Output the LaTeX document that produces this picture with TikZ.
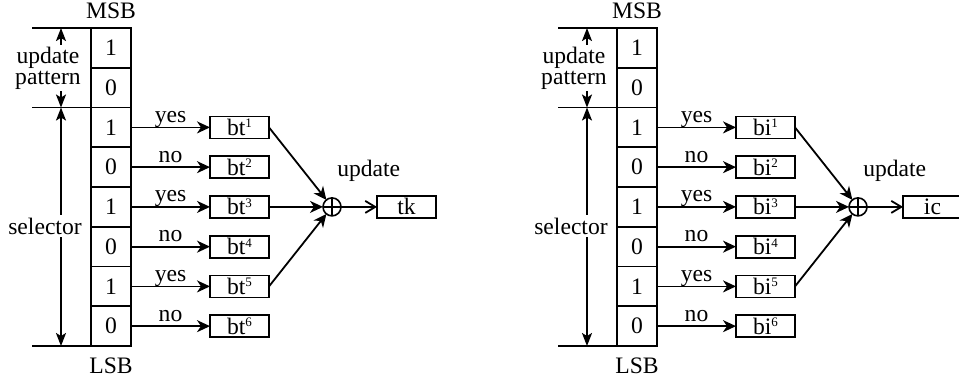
\documentclass[tikz,border=0pt]{standalone}
\usepackage{fontspec}
\setmainfont{Liberation Serif}
\usetikzlibrary{positioning,arrows.meta}

\begin{document}
\begin{tikzpicture}[x=0.5pt, y=0.5pt, line width=0.9pt, font=\fontsize{11.8}{10.5}\selectfont,
  bitcell/.style={draw, minimum width=20pt, minimum height=19.875pt, inner sep=0pt, outer sep=0pt},
  regbox/.style={draw, minimum width=29.5pt, minimum height=11pt, inner sep=0pt, outer sep=0pt},
  fillarrow/.style={-{Stealth[length=6.5pt, width=6pt, inset=2pt]}},
  dimarrow/.style={-{Stealth[length=6.5pt, width=5pt, inset=1.5pt]}},
  openarrow/.style={-{Straight Barb[length=5pt, width=6pt]}}]
\clip (0,0) rectangle (959,382);
\foreach \p/\dx/\reg/\res in {l/0/bt/tk, r/526/bi/ic} {
% bit column
\node[bitcell] (\p1) at (111+\dx,334.1) {1};
\foreach \i/\v in {2/0,3/1,4/0,5/1,6/0,7/1,8/0} {
  \pgfmathtruncatemacro{\k}{\i-1}
  \node[bitcell, below=0pt of \p\k] (\p\i) {\v};
}
\node[above=1pt of \p1] (\p msb) {MSB};
\node[below=2pt of \p8] (\p lsb) {LSB};
% field marks
\coordinate[left=29.5pt of \p1.north west] (\p top);
\coordinate[left=29.5pt of \p3.north west] (\p mid);
\coordinate[left=29.5pt of \p8.south west] (\p bot);
\coordinate[right=14.5pt of \p top] (\p ax);
\draw (\p top) -- (\p1.north west) (\p mid) -- (\p3.north west) (\p bot) -- (\p8.south west);
\node[align=center, inner sep=0.5pt] (\p pat) at (48+\dx,314) {update\\pattern};
\node[inner sep=1pt] (\p sel) at (45+\dx,156) {selector};
\draw[dimarrow] (\p pat.north -| \p ax) -- (\p top -| \p ax);
\draw[dimarrow] (\p pat.south -| \p ax) -- (\p mid -| \p ax);
\draw[dimarrow] (\p sel.north -| \p ax) -- (\p mid -| \p ax);
\draw[dimarrow] (\p sel.south -| \p ax) -- (\p bot -| \p ax);
% selected entries
\foreach \i/\n/\ans in {3/1/yes,4/2/no,5/3/yes,6/4/no,7/5/yes,8/6/no} {
  \node[regbox, right=39.5pt of \p\i] (\p b\n) {\reg\raisebox{3.8pt}{\fontsize{6.5}{6.5}\selectfont\n}};
  \draw[fillarrow] (\p\i) -- (\p b\n) node[midway, anchor=base, yshift=2.5pt] {\ans};
}
\node[draw, circle, minimum size=9pt, inner sep=0pt, outer sep=0pt, line width=0.8pt, right=27pt of \p b3] (\p sum) {};
\draw[line width=0.8pt] (\p sum.north) -- (\p sum.south) (\p sum.west) -- (\p sum.east);
\foreach \n in {1,3,5} \draw[fillarrow] (\p b\n.east) -- (\p sum);
\node[regbox, right=18pt of \p sum] (\p out) {\res};
\draw[openarrow] (\p sum) -- (\p out);
\node[inner sep=0pt, above right=9pt and -1pt of \p sum] (\p upd) {update};
}
\end{tikzpicture}
\end{document}
